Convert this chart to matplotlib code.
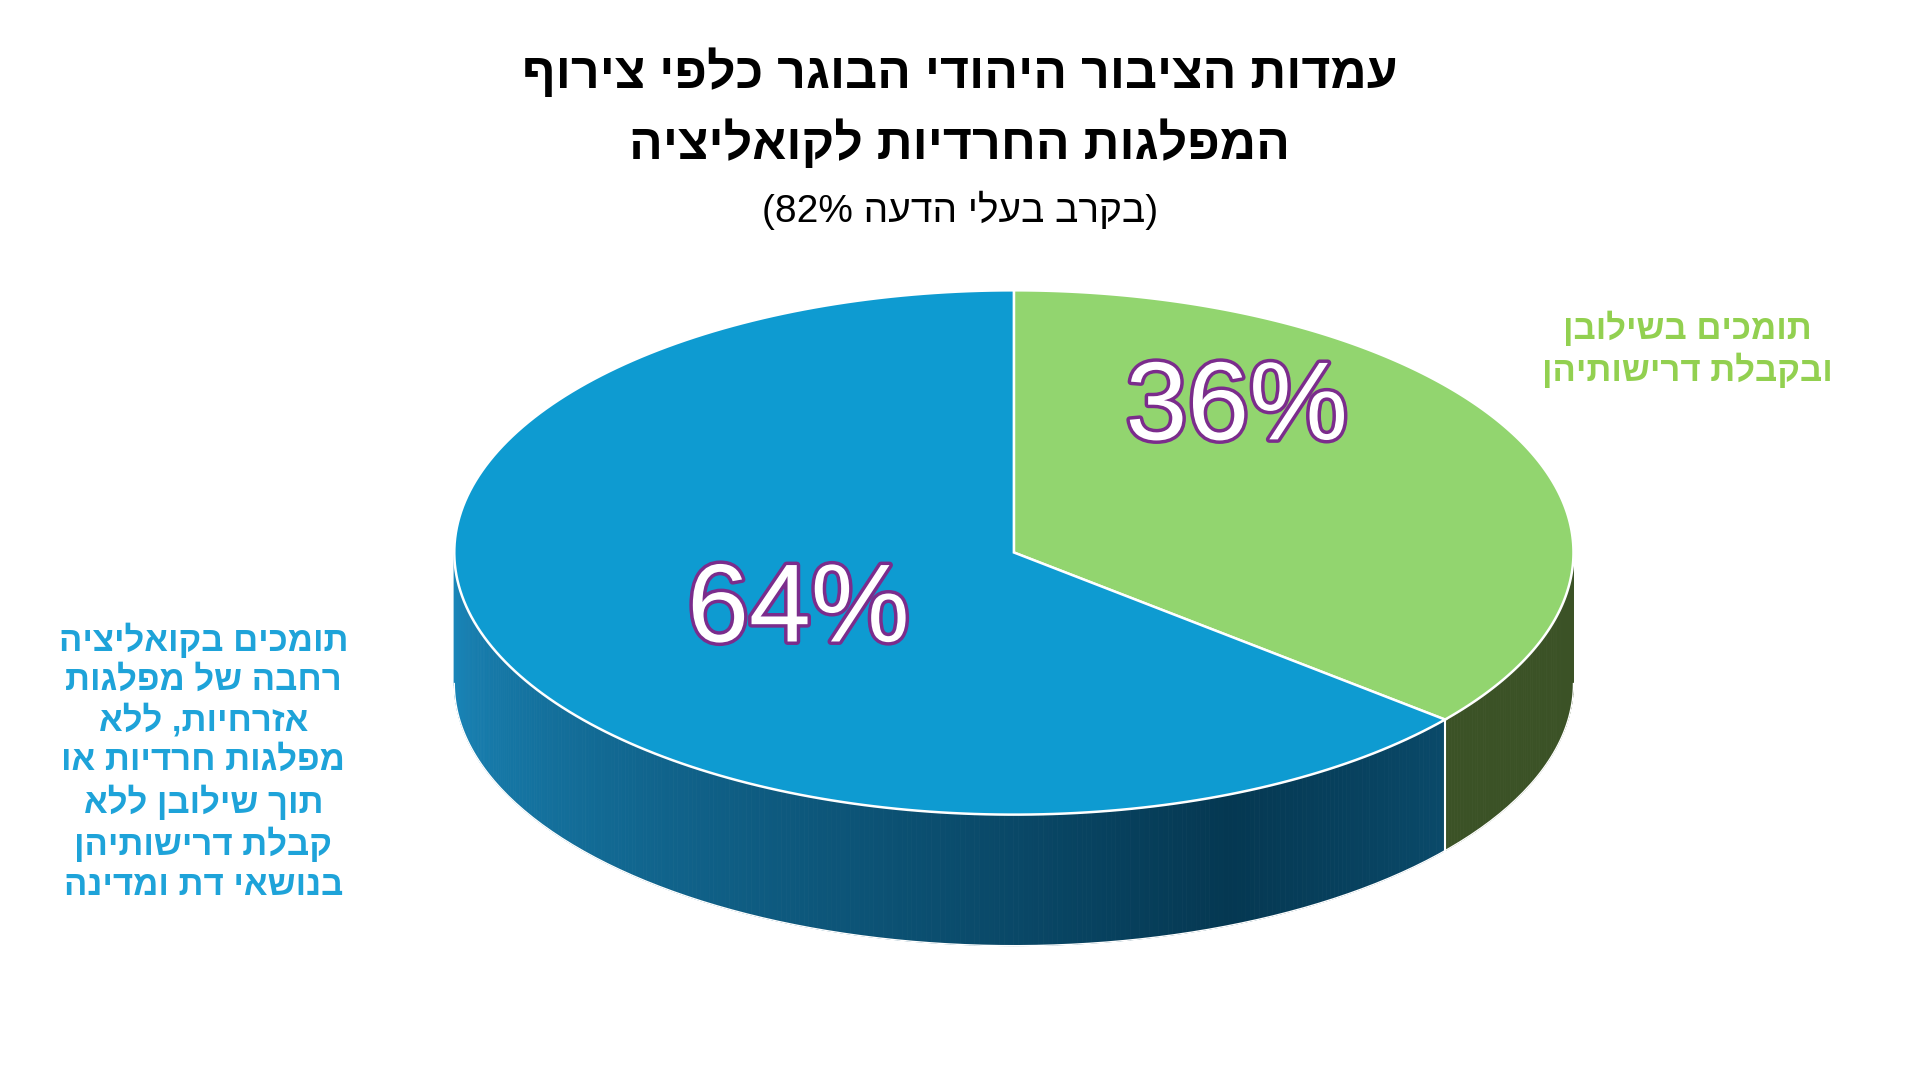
import matplotlib.pyplot as plt
import numpy as np
from matplotlib.patches import Polygon
import matplotlib.patheffects as pe

plt.rcParams["font.family"] = ["Liberation Sans", "DejaVu Sans"]

# data
labels = ["תומכים בשילובן\nובקבלת דרישותיהן",
          "תומכים בקואליציה\nרחבה של מפלגות\nאזרחיות, ללא\nמפלגות חרדיות או\nתוך שילובן ללא\nקבלת דרישותיהן\nבנושאי דת ומדינה"]
values = [36, 64]
top_colors = ["#92d56f", "#0e9bd1"]
title_lines = ["עמדות הציבור היהודי הבוגר כלפי צירוף", "המפלגות החרדיות לקואליציה"]
subtitle = "(82% " + "בקרב בעלי הדעה"[::-1] + ")"

W, H = 1568, 880
cx, cy, rx, ry, depth = 828, 451, 457, 214, 107


def vis(s):
    # naive RTL: reverse characters per line
    return "\n".join(line[::-1] for line in s.split("\n"))


def pt(t, dy=0):
    r = np.radians(t)
    return cx + rx * np.cos(r), cy - ry * np.sin(r) + dy


fig = plt.figure(figsize=(19.2, 10.78), dpi=100)
ax = fig.add_axes([0, 0, 1, 1])
ax.set_xlim(0, W)
ax.set_ylim(H, 0)
ax.axis("off")
fig.patch.set_facecolor("white")

# slice angle ranges, clockwise from 12 o'clock
angles = []
start = 90.0
for v in values:
    end = start - v / sum(values) * 360
    angles.append((end, start))
    start = end

# side walls (front half: 180..360)
green_lo = angles[0][0] % 360
c0 = np.array([0x1a, 0x88, 0xbc]) / 255
c1 = np.array([0x05, 0x38, 0x52]) / 255
c2 = np.array([0x0a, 0x4a, 0x6a]) / 255
for t0 in np.linspace(180, 360, 361)[:-1]:
    t1 = t0 + 0.5
    if t0 >= green_lo:
        col = "#3b5226"
    else:
        f = (t0 - 180) / (green_lo - 180)
        if f < 0.8:
            col = c0 + (c1 - c0) * (f / 0.8)
        else:
            col = c1 + (c2 - c1) * ((f - 0.8) / 0.2)
    ts = np.linspace(t0, t1, 3)
    top = [pt(t) for t in ts]
    bot = [pt(t, depth) for t in ts[::-1]]
    ax.add_patch(Polygon(top + bot, closed=True, facecolor=col, edgecolor=col, lw=0.6))

x0, y0 = pt(green_lo)
ax.plot([x0, x0], [y0, y0 + depth], color="white", lw=1.5)
ts = np.linspace(180, 360, 200)
ax.plot(*zip(*[pt(t, depth) for t in ts]), color="white", lw=1)

# top face
for (a0, a1), col in zip(angles, top_colors):
    ts = np.linspace(a0, a1, 200)
    poly = [(cx, cy)] + [pt(t) for t in ts]
    ax.add_patch(Polygon(poly, closed=True, facecolor=col, edgecolor="white", lw=1.8))

# percentages
stroke = [pe.withStroke(linewidth=5, foreground="#7b2c8c")]
ax.text(1010, 335, "36%", fontsize=80, color="white", ha="center", va="center",
        path_effects=stroke)
ax.text(652, 500, "64%", fontsize=80, color="white", ha="center", va="center",
        path_effects=stroke)

# category labels
ax.text(1378, 285, vis(labels[0]), fontsize=25, fontweight="bold", color="#92d050",
        ha="center", va="center", linespacing=1.25)
ax.text(166, 622, vis(labels[1]), fontsize=25, fontweight="bold", color="#1ea3d9",
        ha="center", va="center", linespacing=1.25)

# titles
ax.text(784, 60, vis(title_lines[0]), fontsize=36, fontweight="bold", ha="center", va="center")
ax.text(784, 118, vis(title_lines[1]), fontsize=36, fontweight="bold", ha="center", va="center")
ax.text(784, 172, subtitle, fontsize=28, ha="center", va="center")

fig.savefig("out.png", dpi=100)
